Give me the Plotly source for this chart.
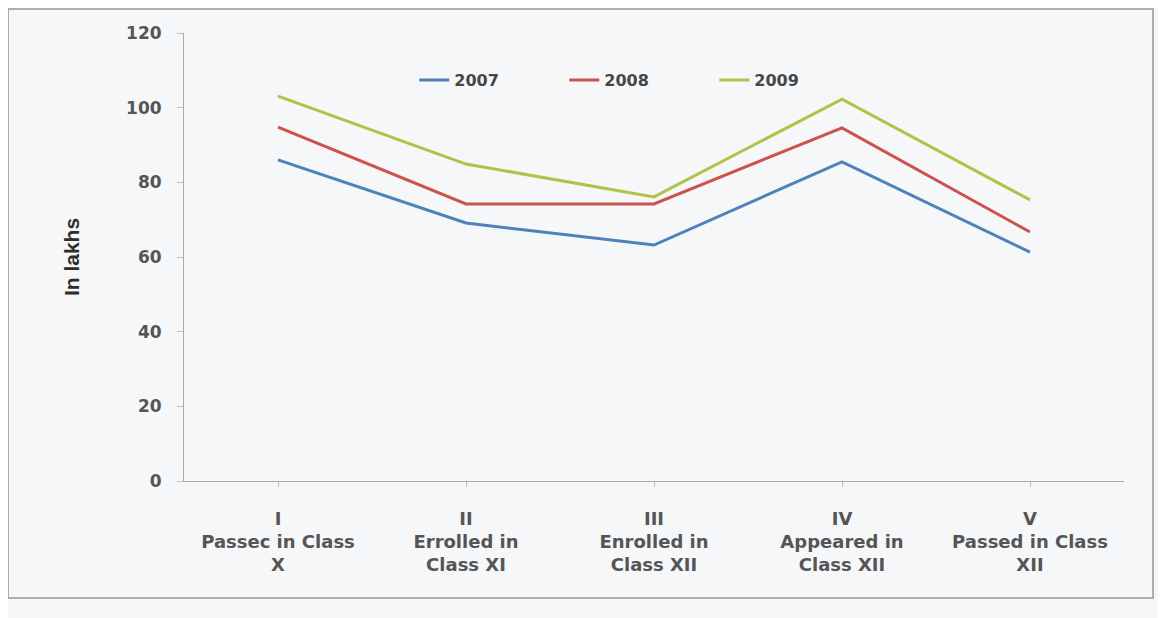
import plotly.graph_objects as go

categories = ["I<br>Passec in Class<br>X", "II<br>Errolled in<br>Class XI", "III<br>Enrolled in<br>Class XII",
              "IV<br>Appeared in<br>Class XII", "V<br>Passed in Class<br>XII"]
years = ["2007", "2008", "2009"]
v2007 = [86.0, 69.1, 63.2, 85.5, 61.3]
v2008 = [94.8, 74.2, 74.2, 94.6, 66.7]
v2009 = [103.1, 84.9, 76.1, 102.3, 75.3]
y_ticks = [0, 20, 40, 60, 80, 100, 120]

colors = ['rgb(79, 129, 189)', 'rgb(205, 82, 78)', 'rgb(178, 194, 72)']
txt = 'rgb(85, 85, 85)'

fig = go.Figure()
for name, vals, c in zip(years, [v2007, v2008, v2009], colors):
    fig.add_trace(go.Scatter(x=categories, y=vals, mode='lines', name=name,
                             line=dict(color=c, width=3)))

# page body adds an 8px offset, so the figure is 8px smaller and margins shifted
fig.update_layout(
    width=1158, height=610,
    margin=dict(l=176, r=42, t=25, b=137),
    paper_bgcolor='rgb(246, 247, 249)',
    plot_bgcolor='rgb(246, 247, 249)',
    font=dict(family='DejaVu Sans', color=txt, size=16),
    showlegend=True,
    legend=dict(orientation='h', x=0.245, y=0.895, xanchor='left', yanchor='middle',
                bgcolor='rgba(0,0,0,0)', entrywidth=105, entrywidthmode='pixels',
                font=dict(size=16, color='rgb(70,70,70)', weight='bold')),
    xaxis=dict(showgrid=False, zeroline=False, showline=True, linecolor='rgb(170,170,175)',
               ticks='outside', ticklen=5, tickcolor='rgb(190,190,195)',
               ticklabelstandoff=16, tickfont=dict(size=18, color=txt, weight='bold'),
               range=[-0.5, 4.5]),
    yaxis=dict(range=[0, 120], tickvals=y_ticks, showgrid=False, zeroline=False,
               showline=True, linecolor='rgb(170,170,175)', ticks='outside', ticklen=6,
               tickcolor='rgb(190,190,195)', ticklabelstandoff=12,
               tickfont=dict(size=17, color=txt, weight='bold'),
               title=dict(text='In lakhs', font=dict(family='Liberation Sans', size=21,
                                                     color='rgb(45,45,45)', weight='bold'),
                          standoff=40)),
    shapes=[dict(type='rect', xref='paper', yref='paper', x0=-0.1872, x1=1.0309, y0=-0.261, y1=1.0536,
                 line=dict(color='rgb(150,150,155)', width=1.5))],
)

fig.write_html("out.html")
